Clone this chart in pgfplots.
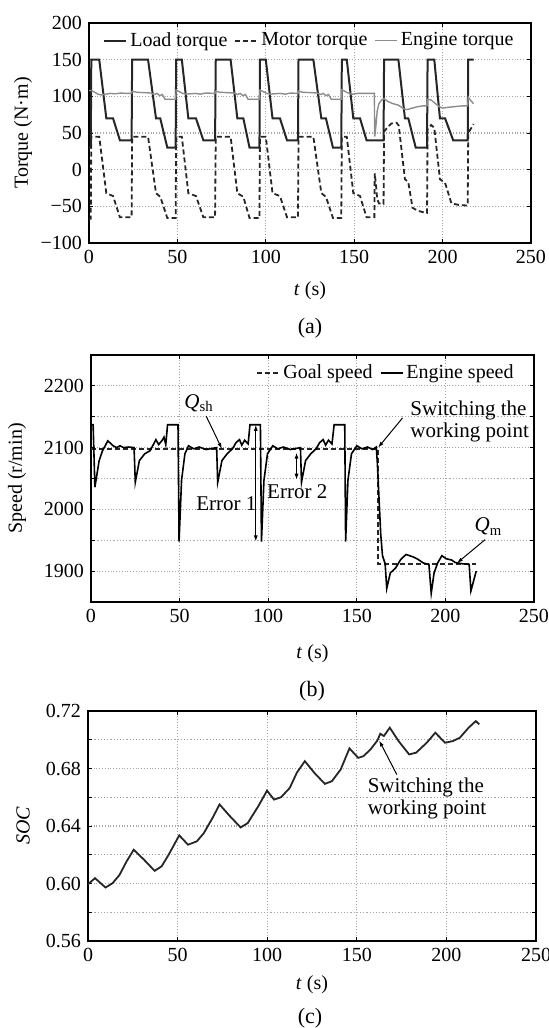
\documentclass[border=0pt]{standalone}
\usepackage{fontspec}
\setmainfont{Liberation Serif}
\usepackage{pgfplots}
\pgfplotsset{compat=1.18}
\usetikzlibrary{arrows.meta}

\pgfplotsset{
  panel/.style={
    scale only axis, anchor=south west,
    xmin=0, xmax=250, xtick={0,50,...,250},
    axis line style={black, line width=0.9pt},
    tick style={black, line width=0.4pt},
    tick align=inside, major tick length=2pt, minor tick length=2pt,
    grid style={densely dotted, black!35, line width=0.6pt},
    minor grid style={densely dotted, black!35, line width=0.6pt},
    /pgf/number format/assume math mode=true,
    /pgf/number format/1000 sep={},
    tick label style={font=\fontsize{10}{12}\selectfont},
    label style={font=\fontsize{10.5}{12}\selectfont},
    xlabel={\textit{t} (s)},
    legend style={draw=none, fill=none, font=\fontsize{10}{12}\selectfont,
      nodes={inner xsep=1.5pt},
      /tikz/every even column/.append style={column sep=2pt}},
    legend image code/.code={\draw[#1] (0pt,0pt) -- (11pt,0pt);},
    clip=false,
  },
  mdash/.style={dash pattern=on 2.5pt off 1.5pt},
}

\begin{document}
\begin{tikzpicture}
\useasboundingbox (0,0) rectangle (274.5pt,-514pt);

% (a) torques
\begin{axis}[panel,
  at={(44.5pt,-121.5pt)}, width=221pt, height=110pt,
  ymin=-100, ymax=200, ytick={-100,-50,0,50,100,150,200},
  yticklabels={−100,−50,0,50,100,150,200},
  grid=major,
  ylabel={Torque (N·m)},
  every axis y label/.style={at={([xshift=-33pt]axis description cs:0,0.5)}, rotate=90, anchor=center},
  every axis x label/.style={at={([yshift=-24pt]axis description cs:0.5,0)}, anchor=center},
  legend columns=3,
  legend style={at={(0.5,0.92)}, anchor=center},
]
\addplot[black!85, line width=1pt] coordinates {
(0,30) (1.0,30) (1.3,150) (5.8,150) (9.8,70) (13.6,70) (17.5,40) (24.1,40)
(24.4,150) (33.4,150) (37.9,70) (40.3,70) (44.3,30) (49.0,30)
(49.3,150) (52.5,150) (56.2,70) (60.5,70) (64.7,40) (71.3,40)
(71.7,150) (80.1,150) (83.9,70) (87.3,70) (90.8,30) (96.4,30)
(96.7,150) (100.0,150) (103.8,70) (108.0,70) (112.0,40) (118.2,40)
(118.5,150) (126.9,150) (131.4,70) (134.0,70) (138.0,30) (142.7,30)
(143.0,150) (145.8,150) (149.5,70) (153.3,70) (157.0,40) (166.6,40)
(166.9,150) (175.0,150) (178.7,70) (180.6,70) (184.8,30) (191.2,30)
(191.5,150) (195.3,150) (198.5,70) (201.4,70) (206.0,40) (214.2,40)
(214.5,150) (217.5,150)
};
\addlegendentry{Load torque}
\addplot[black!85, line width=0.9pt, mdash] coordinates {
(0,-67) (1.0,-67) (1.3,45) (5.8,45) (9.8,-32) (13.6,-36) (17.5,-65) (24.1,-65)
(24.4,45) (33.4,45) (37.9,-32) (40.3,-37) (44.3,-66) (49.0,-66)
(49.3,45) (52.5,45) (56.2,-32) (60.5,-36) (64.7,-65) (71.3,-65)
(71.7,45) (80.1,45) (83.9,-32) (87.3,-37) (90.8,-66) (96.4,-66)
(96.7,45) (100.0,45) (103.8,-32) (108.0,-36) (112.0,-65) (118.2,-65)
(118.5,45) (126.9,45) (131.4,-32) (134.0,-37) (138.0,-66) (142.7,-66)
(143.0,45) (145.8,45) (149.5,-32) (153.3,-36) (157.0,-65) (161.4,-65)
(161.6,-5) (162.3,-20) (163,-40) (164,-46) (166.6,-47)
(166.9,52) (169,58) (171,63) (174,64) (175.2,60) (178.7,-13) (180.6,-17)
(183,-52) (186,-56) (189,-58) (191.2,-59)
(191.5,55) (193.5,61) (195.3,57) (198.5,-13) (201.4,-18) (205,-46) (209,-48) (214.2,-49)
(214.5,50) (216,56) (217.5,62)
};
\addlegendentry{Motor torque}
\addplot[black!45, line width=0.7pt] coordinates {
(0,108) (1.3,108) (3,106) (5,103) (7,102) (9.5,103) (12,104) (15,103.5) (18,104.5) (21,104) (24.1,104)
(24.4,107) (27,105.5) (32,105) (35,104.5) (37,102.5) (38.5,104) (40,101) (41.5,102.5) (43,96) (49,96)
(49.3,108.5) (51,106.5) (53,104) (55,103) (57.5,103.5) (60,104) (63,103) (66,104.5) (71.3,104)
(71.7,107) (74,105.5) (79,105) (82,104.5) (84,102.5) (85.5,104) (87,101) (88.5,102.5) (90,96) (96.4,96)
(96.7,108.5) (98.5,106.5) (100.5,104) (102.5,103) (105,103.5) (108,104) (111,103) (114,104.5) (118.2,104)
(118.5,107) (121,105.5) (126,105) (129,104.5) (131,102.5) (132.5,104) (134,101) (135.5,102.5) (137,96) (142.7,96)
(143,109) (145,106.5) (147,104) (149,103) (152,104) (156,104) (161.4,104)
(161.6,45) (162.3,60) (163,80) (164,90) (165.5,95) (166.9,97) (169,93) (172,90) (175,88) (178,83) (180,82)
(183,84) (186,86) (189,87) (191.2,87) (191.5,96) (193.5,95) (195.5,91) (198,86) (200,84) (203,85) (207,86)
(211,87) (214.2,87) (214.5,99) (216,94) (217.5,90)
};
\addlegendentry{Engine torque}
\end{axis}
\node[font=\fontsize{11}{13}\selectfont] at (155pt,-164pt) {(a)};

% (b) speed
\begin{axis}[panel,
  at={(45.5pt,-301pt)}, width=221.5pt, height=123.5pt,
  ymin=1850, ymax=2250, ytick={1900,2000,2100,2200},
  minor ytick={1950,2050,2150},
  grid=both,
  ylabel={Speed (r/min)},
  every axis y label/.style={at={([xshift=-37pt]axis description cs:0,0.5)}, rotate=90, anchor=center},
  every axis x label/.style={at={([yshift=-26pt]axis description cs:0.5,0)}, anchor=center},
  legend columns=2,
  legend style={at={(0.975,0.927)}, anchor=east},
]
\addplot[black!85, line width=1pt, mdash] coordinates {
(0,2097) (162,2097) (162,1911) (217.5,1911)
};
\addlegendentry{Goal speed}
\addplot[black, line width=0.8pt] coordinates {
(0,2137) (1.2,2137) (2.2,2036) (4.6,2079) (6.5,2095) (9.5,2111) (12.5,2103) (14.5,2100) (16.4,2103)
(18.4,2100) (21.4,2101) (24.3,2100) (25.0,2044) (27.3,2079) (30.3,2090) (33.3,2095) (35.2,2105)
(36.6,2113) (38.2,2105) (40.2,2112) (41.2,2117) (42.2,2105) (43.2,2137) (49.1,2137)
(49.7,1948) (51.1,2047) (53.0,2090) (55.0,2103) (58.0,2098) (61.0,2101) (65.0,2097) (70.9,2100)
(71.5,2044) (73.9,2079) (76.8,2090) (79.8,2098) (81.8,2108) (83.8,2113) (85.1,2104) (86.7,2112)
(88.7,2106) (89.7,2137) (95.6,2137)
(96.2,1948) (97.6,2047) (99.6,2090) (102.6,2103) (105.5,2098) (108.5,2101) (112.5,2097) (118.2,2100)
(118.8,2044) (121.1,2079) (124.0,2090) (127.0,2098) (129.0,2108) (131.0,2113) (132.4,2104) (134.0,2112)
(136.0,2106) (137.2,2137) (143.2,2137)
(143.7,1948) (145,2047) (147,2090) (150,2103) (153,2098) (156,2101) (159,2097) (161,2101)
(161.6,2075) (162.5,2020) (163.5,1960) (164.5,1925) (166,1912) (166.9,1872) (168.9,1897) (171.9,1905)
(174.8,1919) (177.8,1927) (181.8,1923) (184,1920) (187.7,1913) (190.7,1911)
(192,1864) (193.6,1897) (195.6,1913) (198,1925) (200.6,1920) (203.5,1918) (205.5,1914) (209.5,1912)
(213.4,1911) (214.4,1868) (217.4,1900)
};
\addlegendentry{Engine speed}
\node[font=\fontsize{10.5}{12}\selectfont] at (axis cs:61,2172) {\textit{Q}\textsubscript{sh}};
\draw[-{Latex[length=3pt,width=2pt]}, line width=0.5pt] (axis cs:65,2151) -- (axis cs:73.9,2098);
\node[font=\fontsize{10.5}{11}\selectfont, align=left, anchor=west] at (axis cs:176.3,2143) {Switching the\\working point};
\draw[-{Latex[length=3pt,width=2pt]}, line width=0.5pt] (axis cs:175.8,2148) -- (axis cs:162,2100);
\node[font=\fontsize{10.5}{12}\selectfont] at (axis cs:76.4,2009) {Error 1};
\draw[{Latex[length=3pt,width=2pt]}-{Latex[length=3pt,width=2pt]}, line width=0.5pt] (axis cs:93,2137) -- (axis cs:93,1948);
\node[font=\fontsize{10.5}{12}\selectfont] at (axis cs:116.4,2028) {Error 2};
\draw[{Latex[length=3pt,width=2pt]}-{Latex[length=3pt,width=2pt]}, line width=0.5pt] (axis cs:116,2092) -- (axis cs:116,2048);
\node[font=\fontsize{10.5}{12}\selectfont] at (axis cs:224.3,1972) {\textit{Q}\textsubscript{m}};
\draw[-{Latex[length=3pt,width=2pt]}, line width=0.5pt] (axis cs:222.4,1951) -- (axis cs:206.5,1913);
\end{axis}
\node[font=\fontsize{11}{13}\selectfont] at (156pt,-345.5pt) {(b)};

% (c) SOC
\begin{axis}[panel,
  at={(44pt,-470.5pt)}, width=224pt, height=115pt,
  ymin=0.56, ymax=0.72, ytick={0.56,0.60,0.64,0.68,0.72},
  yticklabels={0.56,0.60,0.64,0.68,0.72},
  minor ytick={0.58,0.62,0.66,0.70},
  grid=both,
  ylabel={\textit{SOC}},
  every axis y label/.style={at={([xshift=-32.5pt]axis description cs:0,0.5)}, rotate=90, anchor=center},
  every axis x label/.style={at={([yshift=-22pt]axis description cs:0.5,0)}, anchor=center},
]
\addplot[black!85, line width=0.9pt] coordinates {
(0,0.5995) (3.9,0.6037) (9.8,0.5972) (13.7,0.6002) (17.6,0.6060) (21.5,0.6153) (25.5,0.6235)
(31.3,0.6165) (37.2,0.6088) (41.1,0.6120) (45.0,0.6200) (50.9,0.6335) (55.8,0.6270) (60.7,0.6293)
(64.6,0.6350) (69.5,0.6456) (73.4,0.6550) (79.3,0.6467) (85.2,0.6390) (89.1,0.6420) (95.0,0.6537)
(99.9,0.6646) (103.8,0.6584) (107.7,0.6600) (112.6,0.6665) (116.5,0.6770) (121.0,0.6851)
(126.3,0.6770) (132.2,0.6693) (136.1,0.6712) (141.0,0.6793) (145.9,0.6940) (150.8,0.6874)
(153.7,0.6886) (157.6,0.6932) (161.5,0.6995) (163.1,0.7042) (165.1,0.7026) (168.4,0.7084)
(173.3,0.6991) (179.2,0.6898) (183.1,0.6910) (189.0,0.6979) (193.8,0.7049) (199.3,0.6979)
(203.6,0.6991) (207.5,0.7014) (212.4,0.7084) (216.4,0.7130) (218.3,0.7107)
};
\node[font=\fontsize{10.5}{11}\selectfont, align=left, anchor=west] at (axis cs:152.2,0.659) {Switching the\\working point};
\draw[-{Latex[length=3pt,width=2pt]}, line width=0.5pt] (axis cs:172.3,0.6758) -- (axis cs:162.5,0.6995);
\end{axis}
\node[font=\fontsize{11}{13}\selectfont] at (155pt,-509pt) {(c)};
\end{tikzpicture}
\end{document}
